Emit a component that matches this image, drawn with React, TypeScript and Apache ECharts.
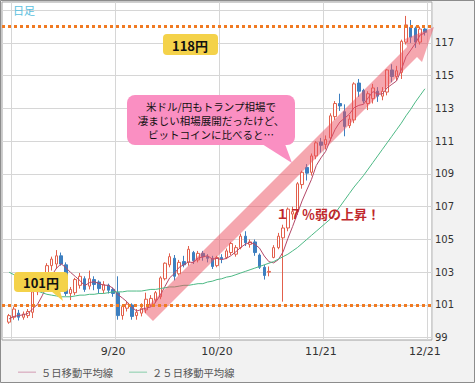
import React, { useEffect, useRef } from "react";
import * as echarts from "echarts";

const categories = [
  "8/18","8/19","8/22","8/23","8/24","8/25","8/26","8/29","8/30","8/31",
  "9/1","9/2","9/5","9/6","9/7","9/8","9/9","9/12","9/13","9/14","9/15","9/16","9/19","9/20","9/21","9/22","9/23","9/26","9/27","9/28","9/29","9/30",
  "10/3","10/4","10/5","10/6","10/7","10/10","10/11","10/12","10/13","10/14","10/17","10/18","10/19","10/20","10/21","10/24","10/25","10/26","10/27","10/28","10/31",
  "11/1","11/2","11/3","11/4","11/7","11/8","11/9","11/10","11/11","11/14","11/15","11/16","11/17","11/18","11/21","11/22","11/23","11/24","11/25","11/28","11/29","11/30",
  "12/1","12/2","12/5","12/6","12/7","12/8","12/9","12/12","12/13","12/14","12/15","12/16","12/19","12/20","12/21","12/22"
];

const opens = [null,
  99.95,100.25,100.5,100.25,100.35,100.55,101.8,102.0,102.9,
  103.4,103.5,104.0,103.45,101.7,101.75,102.2,102.6,102.15,102.55,102.4,101.9,102.2,101.95,101.75,100.35,100.8,101.0,100.35,100.5,100.7,101.0,
  101.3,101.5,102.6,103.45,103.85,102.9,103.65,103.6,104.2,103.75,104.15,103.95,103.85,103.4,103.9,103.9,104.2,104.1,104.5,105.2,104.7,
  104.85,104.05,103.3,103.0,103.9,104.5,105.1,105.7,106.55,106.7,108.35,109.4,109.1,110.1,110.95,110.8,111.2,112.5,113.3,112.8,111.95,112.3,
  114.55,114.1,113.3,113.6,114.05,113.75,114.0,115.35,114.95,115.2,117.05,117.95,117.9,117.05,117.85,null];
const closes = [null,
  100.35,100.75,100.25,100.45,100.6,101.8,102.05,102.9,103.4,
  103.8,104.0,103.5,101.7,101.95,102.55,102.75,101.95,102.6,102.25,102.0,102.25,101.9,101.7,100.35,100.9,101.05,100.3,100.55,100.8,101.35,101.4,
  101.75,102.65,103.55,103.95,102.75,103.6,103.45,104.4,103.7,104.15,103.95,103.85,103.35,103.9,103.8,104.3,104.75,104.5,105.2,104.8,104.85,
  104.2,103.3,102.8,103.05,104.5,105.2,105.7,106.85,106.7,108.4,109.1,109.05,110.1,110.9,110.75,111.1,112.55,113.3,113.15,111.9,112.35,114.5,
  114.05,113.45,113.9,114.25,113.75,114.05,115.35,114.95,115.3,117.1,118.1,117.35,117.05,117.85,117.65,null];
const lows = [null,
  99.85,100.1,100.05,100.1,100.2,100.2,101.6,101.9,102.6,
  103.1,103.2,103.4,101.55,101.3,101.6,102.0,101.8,101.95,101.9,101.7,101.7,101.7,101.5,100.1,100.1,100.6,100.1,100.1,100.3,100.5,100.9,
  101.1,101.35,102.5,103.3,102.5,102.8,103.3,103.4,103.5,103.6,103.7,103.6,103.2,103.3,103.55,103.8,104.05,103.95,104.4,104.6,104.5,
  104.0,103.2,102.55,102.75,103.85,104.4,101.2,105.5,106.2,106.5,108.1,108.6,108.9,109.9,110.3,110.5,111.0,112.3,112.85,111.3,111.8,112.1,
  113.7,113.3,112.9,113.3,113.4,113.5,113.8,114.6,114.7,114.8,116.9,117.0,116.7,116.9,117.45,null];
const highs = [null,
  100.45,100.9,100.7,100.6,100.75,102.0,102.35,103.0,103.55,
  103.95,104.35,104.2,103.6,102.1,102.65,102.95,102.75,103.1,102.75,102.5,102.45,102.3,102.05,102.75,101.0,101.2,101.1,100.75,101.1,101.75,101.6,
  101.85,102.75,103.6,104.15,104.05,103.75,104.0,104.6,104.3,104.3,104.3,104.1,104.0,104.0,104.1,104.45,104.85,104.65,105.35,105.5,105.0,
  105.0,104.15,103.45,103.35,104.65,105.4,105.9,106.95,107.0,108.5,109.2,109.6,110.25,111.0,111.2,111.35,112.7,113.45,113.9,113.25,112.6,114.6,
  114.8,114.2,114.05,114.5,114.3,114.3,115.4,115.7,115.6,117.2,118.65,118.4,118.0,118.0,117.95,null];

const ma5 = [null,
  100.15,100.3,100.35,100.4,100.48,100.77,101.03,101.56,102.15,
  102.79,103.23,103.52,103.28,102.99,102.74,102.49,102.18,102.36,102.42,102.31,102.21,102.2,102.02,101.64,101.42,101.18,100.86,100.63,100.72,100.81,100.88,
  101.17,101.59,102.14,102.66,102.93,103.3,103.46,103.63,103.58,103.86,103.93,104.01,103.8,103.84,103.77,103.84,104.02,104.25,104.51,104.71,104.82,
  104.71,104.47,103.99,103.64,103.57,103.77,104.25,105.06,105.79,106.57,107.35,108.02,108.67,109.51,109.98,110.38,111.08,111.72,112.17,112.4,112.65,113.04,
  113.19,113.25,113.65,114.03,113.88,113.88,114.26,114.47,114.68,115.35,116.16,116.56,116.98,117.49,117.6,null];
const ma25 = [null,
  103.0,102.85,102.65,102.45,102.25,102.0,101.85,101.75,101.65,
  101.6,101.55,101.5,101.5,101.5,101.55,101.6,101.6,101.65,101.65,101.7,101.7,101.75,101.8,101.8,101.8,101.85,101.85,101.85,101.85,101.9,101.95,
  101.95,102.0,102.05,102.1,102.1,102.15,102.2,102.2,102.25,102.3,102.3,102.4,102.45,102.55,102.6,102.7,102.75,102.85,102.95,103.05,103.15,
  103.25,103.35,103.45,103.55,103.65,103.8,103.95,104.1,104.3,104.5,104.75,105.0,105.25,105.5,105.75,106.0,106.25,106.6,107.0,107.4,107.8,108.2,
  108.55,108.9,109.3,109.7,110.1,110.5,110.9,111.3,111.7,112.1,112.55,112.95,113.4,113.8,114.2,null];

const levelLines = [118, 101];
const yTickValues = [99, 101, 103, 105, 107, 109, 111, 113, 115, 117, 119];
const yLabelValues = [99, 101, 103, 105, 107, 109, 111, 113, 115, 117];

const bubbleLines = ["米ドル/円もトランプ相場で", "凄まじい相場展開だったけど、", "ビットコインに比べると…"];

export default function App() {
  const ref = useRef<HTMLDivElement>(null);
  useEffect(() => {
    const chart = echarts.init(ref.current!, undefined, { renderer: "svg" });
    const candles = categories.map((_, i) =>
      opens[i] == null ? "-" : [opens[i], closes[i], lows[i], highs[i]]
    );
    const cjk = '"Noto Sans CJK JP", sans-serif';
    chart.setOption({
      animation: false,
      backgroundColor: "#f2f2f2",
      grid: {
        left: 2, top: 2, right: 43, bottom: 43,
        show: true, backgroundColor: "#ffffff", borderColor: "#a0a0a0", borderWidth: 1,
      },
      legend: {
        left: 13, top: 362, itemWidth: 18, itemHeight: 1, itemGap: 16, icon: "rect",
        data: ["５日移動平均線", "２５日移動平均線"],
        textStyle: { fontSize: 10.3, color: "#555", fontFamily: cjk },
      },
      xAxis: {
        type: "category",
        data: categories,
        boundaryGap: true,
        axisLine: { show: false },
        axisTick: { show: false },
        axisLabel: {
          interval: (index: number) => index >= 23 && index % 22 === 1,
          color: "#333", fontSize: 11, margin: 6, fontFamily: '"DejaVu Sans", sans-serif',
        },
        splitLine: {
          show: true,
          interval: (index: number) => index % 22 === 2,
          lineStyle: { color: "#d6d6d6", width: 1 },
        },
      },
      yAxis: {
        type: "value",
        position: "right",
        min: 98.86,
        max: 119.5,
        axisLine: { show: false },
        axisTick: { show: false, customValues: yTickValues },
        axisLabel: {
          customValues: yLabelValues,
          color: "#333", fontSize: 10, margin: 3, fontFamily: '"DejaVu Sans", sans-serif',
        },
        splitLine: { show: true, lineStyle: { color: "#d6d6d6", width: 1 } },
      },
      series: [
        {
          type: "candlestick",
          name: "USDJPY",
          data: candles,
          barWidth: 3,
          z: 2,
          itemStyle: {
            color: "#ffffff",
            color0: "#3d7fc0",
            borderColor: "#e2604c",
            borderColor0: "#3d7fc0",
            borderWidth: 1,
          },
        },
        {
          type: "line", name: "５日移動平均線", data: ma5, symbol: "none", z: 3,
          lineStyle: { color: "#b44868", width: 1 }, itemStyle: { color: "#d29ab2" },
        },
        {
          type: "line", name: "２５日移動平均線", data: ma25, symbol: "none", z: 3,
          lineStyle: { color: "#4db985", width: 1 }, itemStyle: { color: "#86cda9" },
        },
        {
          type: "line", name: "levels", data: categories.map(() => "-"), symbol: "none", z: 6,
          markLine: {
            silent: true, symbol: ["none", "none"], label: { show: false },
            lineStyle: { color: "#f07a22", type: [3, 3], width: 3 },
            data: levelLines.map((v) => ({ yAxis: v })),
          },
        },
      ],
      graphic: [
        {
          type: "polygon", z: 5, silent: true,
          shape: { points: [[143, 311], [153, 321], [417, 57], [422, 62], [434, 27], [405, 39], [407, 47]] },
          style: { fill: "rgba(235,80,95,0.5)" },
        },
        {
          type: "text", z: 20, x: 13, y: 4,
          style: { text: "日足", fill: "#5bc0de", font: `11px ${cjk}` },
        },
        {
          type: "rect", z: 20, shape: { x: 127, y: 95, width: 168, height: 50, r: 8 },
          style: { fill: "#fa8fc2" },
        },
        {
          type: "polygon", z: 20, shape: { points: [[262, 144], [285, 144], [292, 163]] },
          style: { fill: "#fa8fc2" },
        },
        {
          type: "text", z: 21, x: 211, y: 120,
          style: {
            text: bubbleLines.join("\n"), fill: "#111", font: `10.5px ${cjk}`,
            textAlign: "center", textVerticalAlign: "middle", lineHeight: 14,
          },
        },
        {
          type: "rect", z: 20, shape: { x: 163, y: 34, width: 55, height: 21, r: 4 },
          style: { fill: "#f4d24a" },
        },
        {
          type: "text", z: 21, x: 190, y: 45,
          style: { text: "118円", fill: "#111", font: `bold 13px ${cjk}`, textAlign: "center", textVerticalAlign: "middle" },
        },
        {
          type: "rect", z: 20, shape: { x: 14, y: 272, width: 54, height: 20, r: 4 },
          style: { fill: "#f4d24a" },
        },
        {
          type: "polygon", z: 20, shape: { points: [[51, 291], [60, 291], [63, 301]] },
          style: { fill: "#f4d24a" },
        },
        {
          type: "text", z: 21, x: 41, y: 282,
          style: { text: "101円", fill: "#111", font: `bold 13px ${cjk}`, textAlign: "center", textVerticalAlign: "middle" },
        },
        {
          type: "text", z: 21, x: 328, y: 213,
          style: { text: "１７％弱の上昇！", fill: "#c0282c", font: `bold 13px ${cjk}`, textAlign: "center", textVerticalAlign: "middle" },
        },
        {
          type: "rect", z: 30, silent: true, shape: { x: 0.5, y: 0.5, width: 474, height: 382 },
          style: { fill: "none", stroke: "#8c8c8c", lineWidth: 1 },
        },
      ],
    });
    return () => chart.dispose();
  }, []);
  return (
    <div
      ref={ref}
      style={{ position: "absolute", left: 0, top: 0, width: 475, height: 383 }}
    />
  );
}
